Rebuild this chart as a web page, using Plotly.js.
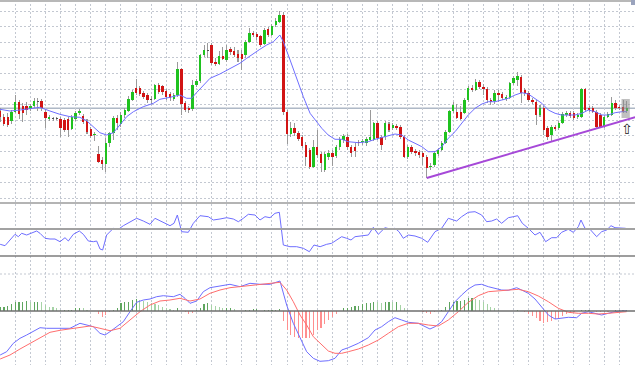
<!DOCTYPE html>
<html><head><meta charset="utf-8">
<script src="https://cdn.plot.ly/plotly-3.0.1.min.js"></script>
<style>html,body{margin:0;padding:0;background:#fff;overflow:hidden}#chart{width:635px;height:365px}</style>
</head><body><div id="chart"></div>
<script>
// ---- candle data (price units of the chart, unlabeled scale) ----
const open = [89,83,83,79,88,98,94,94,91,94,
99,99,88,81,81.5,81,81,80,81,71,
81,87,84,79,71,65,46,40,36,57,
67,82,76,85,89,100,112,112,107,105,
100.5,101,115,114,109,106,101,105,131,97,
92,91,115,119,145,150,155,138,136,144,
140,151,149,146,146,145,158,167,166,164,
156,171,165,175,178,185,88,66,72,67,
63,55,50,33,53,46,30,43,47,44,
53,60,63,53,53,58,58,57,60,60,
77,63,63,76,72,74,73,63,43,53,
49,48,47,43,33,35,46,50,57,68,
89,88,88,87,100,112,110,118,113,111,
100,99,107,106,101,102,117,120,123,110,
107,100,98,85,92,72,65,73,72,77,
85,87,87,83,83,111,92,92,88,85,
73,83,85,97,93,93,89];
const high = [92,86,87,90,105,100,97,98,96,102,
102,101,90,85,83,83,83,82,83,85,
89,91,86,81,73,68,54,43,62,68,
84,85,88,92,104,110,121,114,109,107,
104,116,117,115,111,108,107,138,132,99,
94,120,121,146,155,157,157,142,149,153,
155,153,153,150,150,160,172,169,168,165,
172,173,176,182,189,188,90,78,77,69,
65,58,52,60,70,48,48,50,50,55,
63,66,66,55,57,60,61,63,90,78,
79,65,79,78,77,76,75,65,55,55,
51,50,49,45,37,49,52,59,70,90,
98,96,94,102,114,115,121,120,116,113,
102,110,110,108,105,118,124,128,125,112,
109,102,100,95,94,74,75,75,79,88,
89,89,89,87,112,112,94,94,90,87,
85,88,103,100,95,100,99];
const low = [78,74,73,76,87,81,78,85,89,92,
89,89,72,79,79,80,63,68,63,70,
79,85,76,66,62,59,37,30,28,53,
60,70,73,82,88,99,105,104,101,97,
96,100,106,105,100,99,99,103,85,88,
87,89,113,117,143,142,135,134,135,140,
138,145,143,138,130,142,157,163,160,153,
155,163,164,173,177,85,56,63,64,59,
52,34,31,32,42,28,28,40,34,42,
50,57,50,43,43,54,55,54,59,59,
60,50,60,68,70,70,61,42,41,46,
44,42,35,22,30,33,44,49,56,67,
87,81,80,86,98,108,109,111,105,97,
95,96,98,100,99,101,115,114,97,104,
98,96,75,83,65,60,59,69,70,76,
83,82,80,81,82,88,88,87,72,72,
72,82,84,90,90,87,87];
const close = [83,76,75,88,98,86,87,90,94,99,
98.5,92,82,83,81,81.5,72,70,70,83,
87,89,78,68,64,66,38,36,57,67,
82,77,85,90,101,108,107,106,103,100,
100,115,108,108,103,102,105,131,96,90,
90,115,119,145,150,149.5,137,136,144,141,
150,148,145,142,141,158,167,165,163,155,
170,165,174,179,185,88,66,72,67,61,
54,43,33,53,45,37,46,47,43,53,
61,64,53,47,49,57,59,61,63,77,
62,55,77,70,75,72,63,43,53,48,
47,45,43,32,34,47,50,57,68,89,
95,82,81,100,112,110,118,113,111,100,
98,107,105,102,103,117,122,124,107,107,
100,98,85,92,70,63,73,71,77,86,
87,84,82,85,111,90,90,88,73,73,
83,86,97,92,92,88,92];

// ---- moving average ----
const maPos = [0,2.6,5.3,7.9,10.5,13.2,15.8,18.5,21.1,22.9,24.7,26.4,28.2,30,31.7,33.5,35.3,37.9,40.6,42.3,45,47.6,49.4,50.7,52,53.8,55.6,58.2,60.9,63.5,65.3,67.1,68.8,70.6,72.4,74.1,75,76.8,78.6,80.3,82.1,83.4,85.2,86.9,88.7,90.5,92.2,94.9,97.5,99.3,101.1,102.8,104.6,106.4,108.1,109.9,111.7,113.4,115.2,117,118.7,120.5,122.3,124,125.8,127.6,129.3,131.1,132.9,134.6,136.4,138.2,139.9,141.7,143.5,145.2,147,148.7,150.5,152.3,154.1,155.8,157.6,159.4,161.1,162.9,164.7,166];
const maVal = [90.7,89,90,91.7,92.7,89,85.7,83.3,82.7,79.3,73.3,67.3,65,67.3,75,83.3,88.3,93.3,96.7,100.7,102.7,105,101.7,101.7,107.3,115,121.7,126,131.7,136.7,141.7,146.7,150.7,155,158.3,165,158.3,140,120,103.3,86.7,80,71.7,65,60.7,60.7,58.3,57.3,58.3,60.7,62.7,64,66,65,60,56.7,53.3,48.3,48.3,53.3,61.7,68.3,76.7,85,91.7,96,98.3,98.3,100,101.7,105,107.3,106,101.7,96.7,90,86.7,85,85,85,86.7,90,88.3,85,85,87.3,88.3,88.3];

// ---- oscillator (middle window) ----
const oscPos = [0,1.28,2.6,3.93,4.81,5.69,7.02,8.34,9.67,10.55,11.87,13.2,14.52,15.85,17.17,18.06,19.38,20.97,22.03,23.35,24.68,25.56,26.45,27.15,28.21,29.98,31.3,32.63,34.39,36.16,37.92,39.69,41.01,41.9,43.22,44.99,46.05,46.93,48.08,49.84,51.17,52.93,55.14,56.47,58.23,60,61.77,63.09,64.41,65.74,67.5,68.83,70.15,71.48,72.8,73.95,75.01,76.77,78.54,80.31,81.9,83.13,84.76,86.49,87.81,89.14,90.46,91.79,92.94,94,95.76,97.53,98.85,100.18,101.94,103.27,104.59,105.65,106.8,108.12,109.89,111.66,113.25,114.3,115.19,116.95,118.72,120.93,122.25,124.02,125.78,127.55,128.87,130.2,131.52,132.85,134.61,135.94,137.09,138.32,139.91,141.68,143,144.5,146.09,147.42,148.74,150.51,151.83,153.16,153.86,154.92,156.25,158.01,159.34,160.66,161.81,162.87,164.19,165.7];
const oscVal = [11.7,10.3,16,21.7,19.3,22.7,21,23.3,25,22.7,17.7,17,17,14.3,18.3,15,21.7,25,21.7,15,14.3,15,7,6,21,27.7,26.7,30.3,34.3,37.7,35,31.7,37.7,36,33.7,30.3,32.7,41,24.3,23.7,32.7,40.3,39.3,36,37,38.3,37,34.3,37.7,41.7,41,36,39.3,38.3,42.7,43.7,11,9.3,9.3,7.7,4.3,11,9.3,11.7,12.7,16,19.3,17.7,16,19.3,20,21,28.7,21.7,28.3,27,27.7,24.3,17.7,21,20,17.7,13.7,19.3,24.3,27.7,37.7,35,39.3,43.7,44.3,41,34.3,35,37,32.7,38.3,39.3,40.3,32.7,27.7,21,23.7,14.3,18.3,18.3,23.7,26.7,23.7,29.3,36,27.7,26.7,19.3,24.3,26,30.3,28.3,27.7,27.7];

// ---- MACD (bottom window) ----
const macdPos = [0,1.72,3.48,5.25,7.02,8.78,10.55,12.31,14.96,18.5,21.14,22.91,24.68,26.44,27.77,29.09,30.86,32.62,34.39,36.15,37.92,39.69,41.45,43.22,45.87,47.63,48.96,50.28,52.05,53.81,55.58,58.23,60.88,63.53,66.17,68.82,71.47,74.12,75.89,77.65,79.42,81.19,82.95,84.72,86.93,88.7,90.46,92.23,94.88,97.53,99.29,101.06,102.83,104.59,106.36,108.12,110.77,112.54,113.86,115.19,116.95,118.72,120.49,122.25,124.02,125.78,127.55,129.32,131.08,132.85,134.61,136.82,138.15,139.91,141.68,143.44,145.21,146.98,148.74,150.51,152.72,154.04,155.81,157.57,159.34,161.1,162.87,164.64,165.96];
const macdVal = [-44,-40.7,-32.3,-27.3,-24,-20.7,-16.7,-17.3,-17.3,-17.3,-12.3,-14,-15.7,-22.3,-24,-20.7,-15.7,-10.7,-0.7,8.7,11,12,14.3,15.3,14.3,16.7,12.7,7.7,10,19.3,23.3,25.3,26.7,24.3,27.7,26.7,26.7,30,6,-12.3,-27.3,-40.7,-47.3,-50.3,-49.7,-47.3,-39,-36.7,-32.3,-26.7,-19,-15.7,-10.7,-6.7,-9,-11.3,-12.3,-15.7,-18,-15.7,-10.7,-0.7,9.3,16,22,26,26.7,24.3,22.7,21,20.7,23.3,21,17.7,12,4.3,-4,-8,-7.3,-6.3,-6.7,-2.3,-0.7,-2.3,-4,-2.3,-0.7,0,0.3];
const sigPos = [0,2.6,5.25,7.9,10.55,13.2,15.85,18.5,21.14,23.79,26.44,29.09,31.74,34.39,37.04,39.69,42.33,44.98,47.63,50.28,52.93,55.58,58.23,60.88,63.53,67.06,70.59,74.12,75.89,77.65,79.42,81.19,82.95,84.72,86.93,88.7,90.46,92.23,94.88,97.53,100.18,102.83,105.48,108.12,110.77,113.42,116.07,118.72,121.37,124.02,126.67,129.32,131.97,134.61,137.26,139.91,142.56,145.21,147.86,150.51,153.16,155.81,158.46,161.1,163.75,165.96];
const sigVal = [-48,-44,-38,-32.3,-26.7,-21.3,-19.3,-18,-16.7,-15,-17.3,-19.7,-17.3,-9,-0.7,6,10,11,12.7,10,12,17.7,21,23.3,24.3,25.3,26.7,28.7,21,9.3,-4,-14,-25.7,-32.3,-40,-42.3,-42.3,-40.7,-38,-34,-29,-22.3,-15.7,-12.3,-12.3,-14,-15,-9,-0.7,8.7,15.3,19.3,20.3,21,21.7,19.3,15,9.3,2.7,-1.3,-2.3,-2.3,-3,-2.3,-1.3,-0.7];
const hist = [3.7,4.3,5.3,6.7,8.7,9.3,9.3,10,9.3,9.3,
9.3,8.7,6,4.3,3.7,2.7,1,1,1,1,
3.3,3.3,2.7,1,0,0,-3.3,-5.7,-4,-1.3,
1,2.7,7.7,8.7,9.3,11,11.7,11,10,9.3,
7.7,6.7,6,4.3,2.7,2,1,3.3,0,-1.3,
-3.3,-2.3,1,3.3,7,7.7,6,5,4.3,3.3,
3.3,3.3,2,0,0,1,1,1.7,2,0.3,
1,1,1,1,1.7,-10,-19,-24,-25.7,-27.3,
-27.3,-27.3,-26.7,-24,-19,-16.7,-13.3,-9,-5.7,-3,
0,2.7,3.3,4.3,5.3,5.3,6.7,7.7,8.3,9.3,
8.7,7.7,9.3,9.3,8.7,8.7,6,2.7,1,0,
0,0,-1.3,-2.3,-3.3,-1.3,0,1,4.3,8.7,
9.3,10,10,11,12.7,12.7,12,11,9.3,6.7,
4.3,3.3,1,0,0,0,0,1,0,-1.3,
-3.3,-4.7,-7.3,-10,-12.3,-11.3,-10,-8,-6.7,-4.7,
-3.3,-2.3,-1.3,0,1,1,1,0.3,-0.7,-1.3,
-1.3,-0.7,0,0.7,0.7,0.7,0.7];

// ---- drawn objects ----
const trendPos = [113, 168.2];
const trendVal = [22, 82.7];
const levelPrice = 91.7;       // horizontal line in the price window
const oscLevels = [53, 27];     // level lines in the oscillator window
const macdGrid = 37;
const selPos = [164.6, 166.8];  // highlighted (selected) bars
const selVal = [82, 101];
const markPos = 166, markVal = 71;

// ---- build ----
const H = 365;
const py = p => (H - p) / H;
const idx = open.map((_, i) => i);

const wickBase = low;
const wickLen = high.map((h, i) => Math.max(h - low[i], 0.5));
const bodyBase = open.map((o, i) => Math.min(o, close[i]));
const bodyLen = open.map((o, i) => Math.max(Math.abs(close[i] - o), 0.8));
const bodyCol = open.map((o, i) => {
  const d = close[i] - o;
  if (Math.abs(d) < 0.6) return '#505050';
  return d > 0 ? '#1fc21f' : '#d11414';
});
const histCol = hist.map((v, i) => {
  if (v < 0) return '#ff8f8f';
  const prev = i > 0 ? hist[i - 1] : v;
  return v >= prev ? '#5fa65f' : '#a6d3a6';
});

const traces = [
  {type:'bar', x:idx, y:wickLen, base:wickBase, width:0.27, marker:{color:'#9a9a9a'}, xaxis:'x', yaxis:'y', hoverinfo:'skip'},
  {type:'bar', x:idx, y:bodyLen, base:bodyBase, width:0.64, marker:{color:bodyCol}, xaxis:'x', yaxis:'y', hoverinfo:'skip'},
  {type:'scatter', mode:'lines', x:maPos, y:maVal, line:{color:'#6e6eff', width:1}, xaxis:'x', yaxis:'y'},
  {type:'scatter', mode:'lines', x:trendPos, y:trendVal, line:{color:'#a648d8', width:2}, xaxis:'x', yaxis:'y'},
  {type:'scatter', mode:'lines', x:oscPos, y:oscVal, line:{color:'#6e6eff', width:1}, xaxis:'x', yaxis:'y2'},
  {type:'bar', x:idx, y:hist, width:0.3, marker:{color:histCol}, xaxis:'x', yaxis:'y3', hoverinfo:'skip'},
  {type:'scatter', mode:'lines', x:macdPos, y:macdVal, line:{color:'#6e6eff', width:1}, xaxis:'x', yaxis:'y3'},
  {type:'scatter', mode:'lines', x:sigPos, y:sigVal, line:{color:'#ff6e6e', width:1}, xaxis:'x', yaxis:'y3'}
];

const hline = (ypx, color, w, dash) => ({type:'line', xref:'paper', yref:'paper', x0:0, x1:1, y0:py(ypx), y1:py(ypx), line:{color:color, width:w, dash:dash||'solid'}, layer:'above'});

const layout = {
  width:635, height:365, margin:{l:0, r:0, t:0, b:0},
  paper_bgcolor:'#ffffff', plot_bgcolor:'#ffffff',
  showlegend:false, barmode:'overlay', bargap:0,
  xaxis:{range:[-0.046, 168.17], showticklabels:false, ticks:'', zeroline:false, showline:false,
         showgrid:true, tick0:0, dtick:4, gridcolor:'#c3c8d1', gridwidth:1, griddash:'2px,2px', fixedrange:true},
  yaxis:{domain:[py(200), 1], range:[0, 200], showticklabels:false, ticks:'', zeroline:false,
         showgrid:true, tick0:17.4, dtick:15.6, gridcolor:'#c3c8d1', gridwidth:1, griddash:'2px,2px'},
  yaxis2:{domain:[py(256), py(200)], range:[0, 56], showticklabels:false, ticks:'', zeroline:false, showgrid:false},
  yaxis3:{domain:[0, py(256)], range:[-54, 55], showticklabels:false, ticks:'', zeroline:false, showgrid:false},
  shapes:[
    hline(1, '#b8b8b8', 2),
    {type:'line', xref:'paper', yref:'y', x0:0, x1:1, y0:levelPrice, y1:levelPrice, line:{color:'#aeb8c6', width:1.5}, layer:'below'},
    {type:'line', xref:'paper', yref:'y2', x0:0, x1:1, y0:oscLevels[0], y1:oscLevels[0], line:{color:'#b4b4b4', width:2}},
    {type:'line', xref:'paper', yref:'y2', x0:0, x1:1, y0:oscLevels[1], y1:oscLevels[1], line:{color:'#a2a2a2', width:2}},
    hline(256, '#7c7c7c', 1.5),
    {type:'line', xref:'paper', yref:'y3', x0:0, x1:1, y0:macdGrid, y1:macdGrid, line:{color:'#c3c8d1', width:1, dash:'2px,2px'}, layer:'below'},
    {type:'line', xref:'paper', yref:'y3', x0:0, x1:1, y0:0, y1:0, line:{color:'#6e6e6e', width:1.5}},
    {type:'rect', xref:'x', yref:'y', x0:selPos[0], x1:selPos[1], y0:selVal[0], y1:selVal[1], fillcolor:'rgba(140,140,140,0.55)', line:{width:0}, layer:'above'},
    {type:'rect', xref:'paper', yref:'paper', x0:(631/635), x1:1, y0:py(5), y1:1, fillcolor:'#9aa3bd', line:{width:0}, layer:'above'}
  ],
  annotations:[
    {xref:'x', yref:'y', x:markPos, y:markVal, text:'⇧', showarrow:false, font:{family:'DejaVu Sans', size:14, color:'#222'}}
  ]
};

Plotly.newPlot('chart', traces, layout, {staticPlot:true, displayModeBar:false});
</script>
</body></html>
